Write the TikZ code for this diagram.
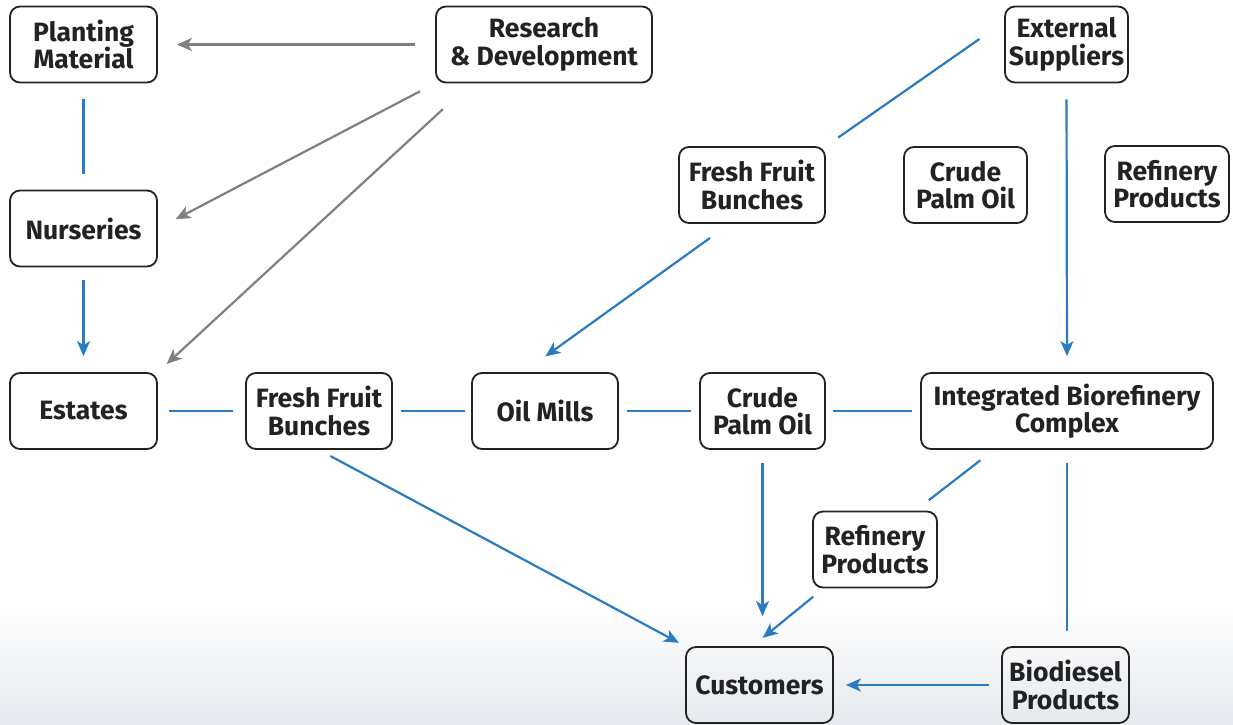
\documentclass[tikz,border=0pt]{standalone}
\usepackage{fontspec}
\setmainfont{Fira Sans}
\usetikzlibrary{arrows.meta,calc}
\definecolor{lnblue}{HTML}{2A7BC0}
\definecolor{lngray}{HTML}{808080}
\definecolor{boxline}{HTML}{222222}
\definecolor{bgbottom}{HTML}{E5E9EE}
\begin{document}
\begin{tikzpicture}[x=1pt,y=-1pt,
  box/.style={draw=boxline,line width=1.8pt,rounded corners=10pt,align=center,
    font=\fontsize{26.5}{27.5}\selectfont\bfseries,text=boxline,inner sep=0pt,minimum height=76pt},
  bl/.style={draw=lnblue,line width=2.2pt},
  ba/.style={bl,-{Stealth[length=15pt,width=13pt,inset=4pt]}},
  ga/.style={draw=lngray,line width=2.2pt,-{Stealth[length=15pt,width=13pt,inset=4pt]}}]
\useasboundingbox (0,0) rectangle (1233,724);
\fill[top color=white,bottom color=bgbottom] (0,605) rectangle (1233,724);
% nodes
\node[box,minimum width=147pt] (pm) at (83.5,44.5) {Planting\\Material};
\node[box,minimum width=216pt] (rd) at (544,44.5) {Research\\\& Development};
\node[box,minimum width=123pt] (ext) at (1066.5,44.5) {External\\Suppliers};
\node[box,minimum width=147pt] (nur) at (83.5,228.5) {Nurseries};
\node[box,minimum width=146pt] (ffbt) at (752,185) {Fresh Fruit\\Bunches};
\node[box,minimum width=123pt] (cpot) at (965.5,185) {Crude\\Palm Oil};
\node[box,minimum width=124pt] (rpt) at (1167,184) {Refinery\\Products};
\node[box,minimum width=147pt] (es) at (83.5,411) {Estates};
\node[box,minimum width=146pt] (ffb) at (319,411) {Fresh Fruit\\Bunches};
\node[box,minimum width=146pt] (om) at (545,411) {Oil Mills};
\node[box,minimum width=125pt] (cpo) at (762.5,411) {Crude\\Palm Oil};
\node[box,minimum width=292pt] (ibc) at (1067,411) {Integrated Biorefinery\\Complex};
\node[box,minimum width=124pt] (rp) at (875,549.5) {Refinery\\Products};
\node[box,minimum width=147pt] (cu) at (759.5,685) {Customers};
\node[box,minimum width=127pt] (bio) at (1065.5,685) {Biodiesel\\Products};
% gray arrows
\draw[ga,shorten <=20pt,shorten >=19pt] (rd.west) -- (pm.east);
\draw[ga,shorten <=17pt,shorten >=20pt] (rd.south west) -- (nur.east);
\draw[ga,shorten <=38pt,shorten >=12pt] (rd.208) -- (es.north east);
% blue connectors
\draw[bl,shorten <=16pt,shorten >=16pt] (pm.south) -- (nur.north);
\draw[ba,shorten <=13pt,shorten >=16pt] (nur.south) -- (es.north);
\draw[bl,shorten <=11pt,shorten >=12pt] (es.east) -- (ffb.west);
\draw[bl,shorten <=8pt,shorten >=6pt] (ffb.east) -- (om.west);
\draw[bl,shorten <=8pt,shorten >=8pt] (om.east) -- (cpo.west);
\draw[bl,shorten <=7pt,shorten >=8pt] (cpo.east) -- (ibc.west);
\draw[bl,shorten <=30pt,shorten >=15pt] (ext.160) -- (ffbt.north east);
\draw[ba,shorten <=24pt,shorten >=27pt] (ffbt.240) -- (om.119);
\draw[ba,shorten <=16pt,shorten >=16pt] (ext.south) -- (ibc.north);
\draw[ba,shorten <=13pt,shorten >=7pt] (ffb.south) -- (cu.north west);
\draw[ba,shorten <=13pt,shorten >=30pt] (cpo.south) -- (cpo.south |- cu.north);
\draw[bl,shorten <=17pt,shorten >=17pt] (ibc.208) -- (rp.44);
\draw[ba,shorten <=13pt,shorten >=13pt] (rp.217) -- (cu.100);
\draw[bl,shorten <=13pt,shorten >=15pt] (ibc.south) -- (ibc.south |- bio.north);
\draw[ba,shorten <=12pt,shorten >=12pt] (bio.west) -- (cu.east);
\end{tikzpicture}
\end{document}
